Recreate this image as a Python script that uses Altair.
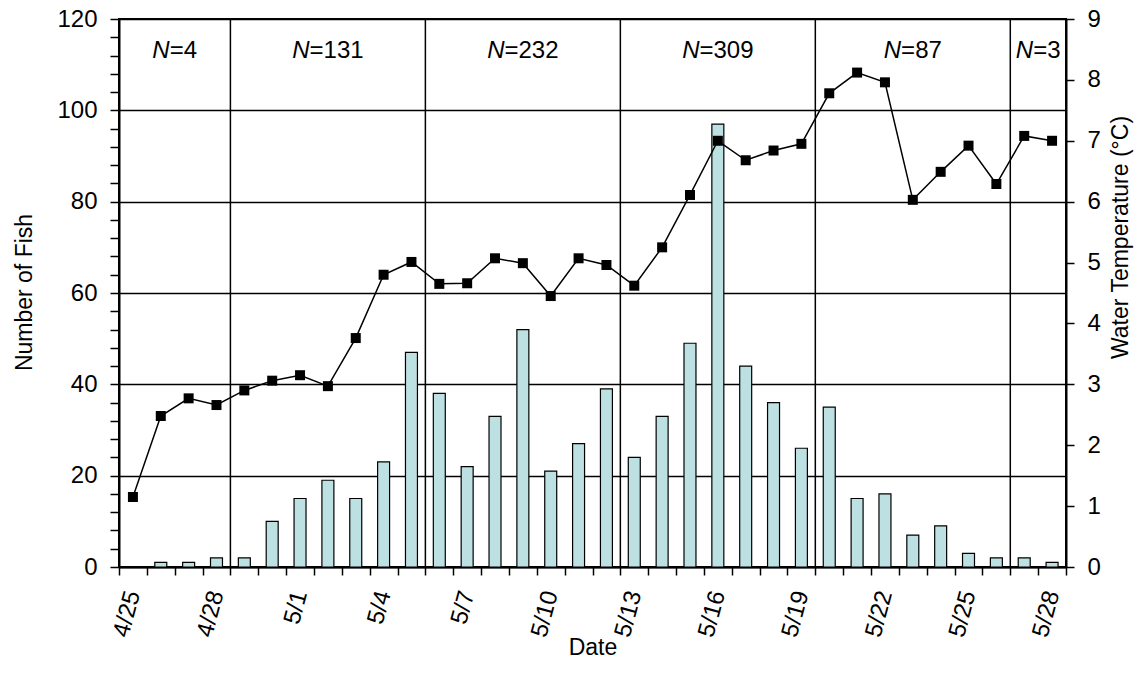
import altair as alt
import pandas as pd

# ---------------- data ----------------
dates = ["4/25", "4/26", "4/27", "4/28", "4/29", "4/30",
         "5/1", "5/2", "5/3", "5/4", "5/5", "5/6", "5/7", "5/8", "5/9", "5/10",
         "5/11", "5/12", "5/13", "5/14", "5/15", "5/16", "5/17", "5/18", "5/19",
         "5/20", "5/21", "5/22", "5/23", "5/24", "5/25", "5/26", "5/27", "5/28"]
fish = [0, 1, 1, 2, 2, 10, 15, 19, 15, 23, 47, 38, 22, 33, 52, 21, 27, 39,
        24, 33, 49, 97, 44, 36, 26, 35, 15, 16, 7, 9, 3, 2, 2, 1]
temp = [1.15, 2.48, 2.77, 2.66, 2.90, 3.06, 3.15, 2.97, 3.76, 4.80, 5.01,
        4.65, 4.66, 5.07, 4.99, 4.45, 5.07, 4.96, 4.62, 5.25, 6.11, 7.00,
        6.68, 6.84, 6.95, 7.78, 8.12, 7.96, 6.03, 6.49, 6.92, 6.29, 7.08, 7.00]
label_dates = ["4/25", "4/28", "5/1", "5/4", "5/7", "5/10", "5/13",
               "5/16", "5/19", "5/22", "5/25", "5/28"]
period_starts = ["4/25", "4/29", "5/6", "5/13", "5/20", "5/27"]
period_ends = ["4/28", "5/5", "5/12", "5/19", "5/26", "5/28"]
period_n = [4, 131, 232, 309, 87, 3]
fish_ticks = list(range(0, 121, 4))
temp_ticks = list(range(0, 10))

FONT = "Liberation Sans"
FS = 24      # tick labels and N labels
TFS = 23     # axis titles

df = pd.DataFrame({"date": dates, "fish": fish, "temp": temp})

rows = []
for s, e, n in zip(period_starts, period_ends, period_n):
    i0, i1 = dates.index(s), dates.index(e)
    mid = (i0 + i1 + 1) / 2
    k = int(mid)
    rows.append({"date": dates[k], "band": mid - k, "rest": f"={n}", "start": s})
per = pd.DataFrame(rows)
sep = pd.DataFrame({"date": period_starts[1:]})

# ---------------- scales / axes ----------------
xscale = alt.Scale(type="band", domain=dates, paddingInner=0, paddingOuter=0)
label_list = ",".join(f"'{d}'" for d in label_dates)
xaxis = alt.Axis(
    title="Date", labelExpr=f"indexof([{label_list}], datum.value) >= 0 ? datum.value : ''",
    labelAngle=-75, tickBand="extent", tickSize=8, labelPadding=16,
    titleY=87, titleBaseline="alphabetic", grid=False,
)


def xenc(band=None):
    if band is None:
        return alt.X("date:O", scale=xscale, axis=xaxis)
    return alt.X("date:O", scale=xscale, axis=xaxis, bandPosition=band)


bars = alt.Chart(df).mark_bar(
    width=alt.RelativeBandSize(0.43), color="#bde0e3", stroke="black", strokeWidth=1.2
).encode(
    x=xenc(),
    y=alt.Y("fish:Q", scale=alt.Scale(domain=[0, 120], nice=False),
            axis=alt.Axis(title="Number of Fish", values=fish_ticks,
                          labelExpr="datum.value % 20 === 0 ? datum.label : ''",
                          grid=True, gridColor="black", gridWidth=1.3,
                          gridOpacity={"condition": {"test": "datum.value % 20 === 0", "value": 1}, "value": 0},
                          tickSize=9, labelPadding=13, titleAngle=270,
                          titleX=-87.5, titleY=273, titleBaseline="alphabetic")),
)

line = alt.Chart(df).mark_line(
    color="black", strokeWidth=1.5,
    point=alt.OverlayMarkDef(shape="square", size=100, filled=True, color="black", opacity=1),
).encode(
    x=xenc(),
    y=alt.Y("temp:Q", scale=alt.Scale(domain=[0, 9], nice=False),
            axis=alt.Axis(orient="right", title="Water Temperature (°C)", values=temp_ticks,
                          grid=False, tickSize=8, labelPadding=13, titleAngle=270,
                          titleX=61, titleY=218, titleBaseline="alphabetic")),
)

rules = alt.Chart(sep).mark_rule(color="black", strokeWidth=1.5).encode(x=xenc(0))

dx_expr = f"(0.722 - (0.584 + 0.556 * (length(datum.rest) - 1))) * {FS} / 2"
texts = []
for b in sorted(per["band"].unique()):
    sub = per[per["band"] == b]
    base = alt.Chart(sub)
    texts.append(base.mark_text(text="N", fontStyle="italic", align="right", baseline="alphabetic",
                                font=FONT, fontSize=FS, color="black", dx=alt.expr(dx_expr))
                 .encode(x=xenc(float(b)), y=alt.value(39)))
    texts.append(base.mark_text(align="left", baseline="alphabetic",
                                font=FONT, fontSize=FS, color="black", dx=alt.expr(dx_expr))
                 .encode(x=xenc(float(b)), y=alt.value(39), text="rest:N"))

chart = alt.layer(bars, rules, *texts, line).resolve_scale(y="independent").properties(
    width=947, height=548,
    autosize=alt.AutoSizeParams(type="none"),
    padding={"left": 119, "top": 19, "right": 77, "bottom": 120},
).configure_view(stroke="black", strokeWidth=2).configure_axis(
    labelFont=FONT, titleFont=FONT, labelFontSize=FS, titleFontSize=TFS,
    labelColor="black", titleColor="black", titleFontWeight="normal",
    domainColor="black", domainWidth=2, tickColor="black", tickWidth=1.5,
)

chart.save("out.html", embed_options={"renderer": "svg", "actions": False})
